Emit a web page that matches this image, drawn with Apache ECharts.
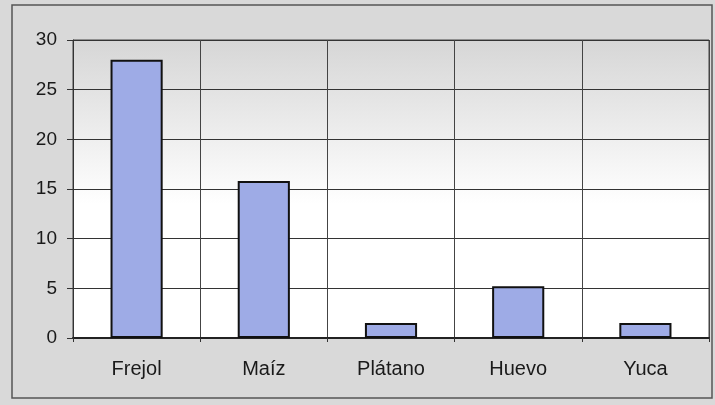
<!DOCTYPE html>
<html>
<head>
<meta charset="utf-8">
<script src="https://cdn.jsdelivr.net/npm/echarts@6/dist/echarts.min.js"></script>
<style>
  html, body { margin: 0; padding: 0; background: #e4e4e4; }
  #chart { width: 715px; height: 405px; }
</style>
</head>
<body>
<div id="chart"></div>
<script>
var categories = ['Frejol', 'Maíz', 'Plátano', 'Huevo', 'Yuca'];
var values = [28, 15.8, 1.5, 5.2, 1.5];

var chart = echarts.init(document.getElementById('chart'));
chart.setOption({
  backgroundColor: '#d9d9d9',
  animation: false,
  graphic: [{
    type: 'rect',
    shape: { x: 12, y: 5, width: 700, height: 393 },
    style: { fill: 'none', stroke: '#555', lineWidth: 1.5 },
    z: -1
  }],
  grid: {
    left: 73, right: 6, top: 40, bottom: 67,
    show: true,
    borderColor: '#444',
    borderWidth: 1,
    backgroundColor: {
      type: 'linear', x: 0, y: 0, x2: 0, y2: 1,
      colorStops: [
        { offset: 0, color: '#d6d6d6' },
        { offset: 0.55, color: '#ffffff' },
        { offset: 1, color: '#ffffff' }
      ]
    }
  },
  xAxis: {
    type: 'category',
    data: categories,
    axisLine: { lineStyle: { color: '#222', width: 2 } },
    axisTick: { show: true, length: 4, lineStyle: { color: '#333' } },
    axisLabel: { color: '#1a1a1a', fontSize: 20, margin: 21, fontFamily: 'Liberation Sans' },
    splitLine: { show: true, lineStyle: { color: '#444', width: 1 } }
  },
  yAxis: {
    type: 'value',
    min: 0, max: 30, interval: 5,
    axisLine: { show: true, lineStyle: { color: '#333' } },
    axisTick: { show: true, length: 6, lineStyle: { color: '#333' } },
    axisLabel: { color: '#1a1a1a', fontSize: 19, margin: 16, fontFamily: 'Liberation Sans' },
    splitLine: { lineStyle: { color: '#333', width: 1 } }
  },
  series: [{
    type: 'bar',
    data: values,
    barWidth: '41%',
    itemStyle: { color: '#9eabe6', borderColor: '#111', borderWidth: 2 }
  }]
});
</script>
</body>
</html>
